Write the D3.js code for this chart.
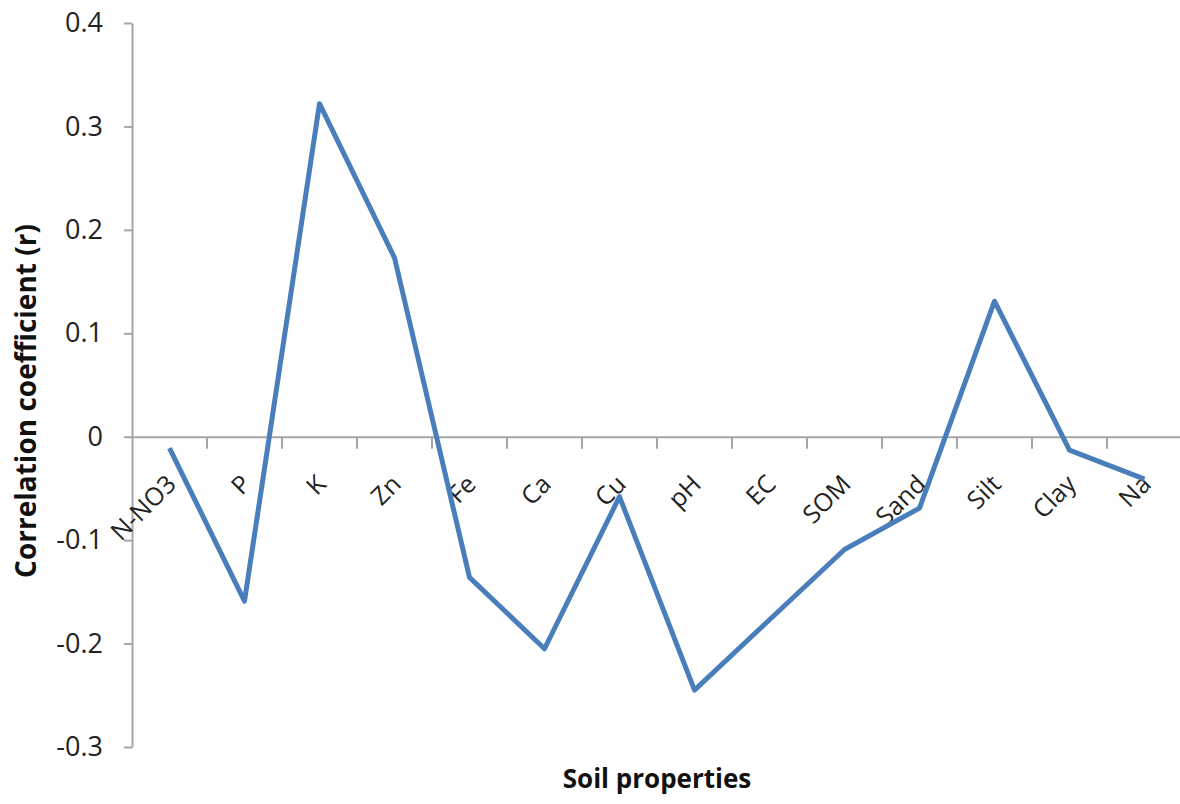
<!DOCTYPE html>
<html>
<head>
<meta charset="utf-8">
<script src="https://cdn.jsdelivr.net/npm/d3@7"></script>
<style>
  body { margin: 0; background: #fff; }
  svg text { font-family: "Open Sans", "Liberation Sans", sans-serif; }
</style>
</head>
<body>
<div id="chart"></div>
<script>
// categories and values
var categories = ["N-NO3", "P", "K", "Zn", "Fe", "Ca", "Cu", "pH", "EC", "SOM", "Sand", "Silt", "Clay", "Na"];
var values = [-0.011, -0.159, 0.322, 0.173, -0.136, -0.205, -0.058, -0.245, -0.177, -0.109, -0.069, 0.131, -0.013, -0.041];
var yTicks = [0.4, 0.3, 0.2, 0.1, 0, -0.1, -0.2, -0.3];

var width = 1180, height = 804;
var margin = {left: 132, right: 0, top: 23, bottom: 57};

var svg = d3.select("#chart").append("svg")
    .attr("width", width)
    .attr("height", height);

var x = d3.scaleBand()
    .domain(categories)
    .range([margin.left, 1182])
    .padding(0);

var y = d3.scaleLinear()
    .domain([-0.3, 0.4])
    .range([height - margin.bottom, margin.top]);

// y axis, plain hyphen for negatives like the original
var yAxis = svg.append("g")
    .attr("transform", "translate(" + margin.left + ",0)")
    .call(d3.axisLeft(y).tickValues(yTicks).tickSize(8).tickSizeOuter(0)
        .tickFormat(function(d) { return d === 0 ? "0" : d.toFixed(1); }));
yAxis.select(".domain").attr("stroke", "#a6a6a6").attr("stroke-width", 2);
yAxis.selectAll(".tick line").attr("stroke", "#a6a6a6").attr("stroke-width", 2);
yAxis.selectAll(".tick text")
    .attr("x", -29)
    .attr("fill", "#222")
    .style("font-size", "27px");

// x axis through zero
var xAxis = svg.append("g")
    .attr("transform", "translate(0," + y(0) + ")")
    .call(d3.axisBottom(x).tickSize(0).tickSizeOuter(0));
xAxis.select(".domain").attr("stroke", "#a6a6a6").attr("stroke-width", 2);

// boundary ticks between categories
var bounds = categories.map(function(c) { return x(c) + x.bandwidth(); });
xAxis.selectAll(".bound")
    .data(bounds)
    .enter().append("line")
    .attr("class", "bound")
    .attr("x1", function(d) { return d; })
    .attr("x2", function(d) { return d; })
    .attr("y1", 0)
    .attr("y2", 12)
    .attr("stroke", "#a6a6a6")
    .attr("stroke-width", 2);

xAxis.selectAll(".tick text")
    .attr("fill", "#222")
    .style("font-size", "25px")
    .attr("text-anchor", "end")
    .attr("dy", 0)
    .attr("y", 0)
    .attr("transform", "translate(8,49) rotate(-45)");

// line
var line = d3.line()
    .x(function(d, i) { return x(categories[i]) + x.bandwidth() / 2; })
    .y(function(d) { return y(d); });

svg.append("path")
    .datum(values)
    .attr("fill", "none")
    .attr("stroke", "#4a7ebb")
    .attr("stroke-width", 5)
    .attr("stroke-linejoin", "round")
    .attr("d", line);

// titles
svg.append("text")
    .attr("transform", "translate(36,401) rotate(-90)")
    .attr("text-anchor", "middle")
    .attr("fill", "#111")
    .style("font-size", "28px")
    .style("font-weight", "bold")
    .text("Correlation coefficient (r)");

svg.append("text")
    .attr("x", 657)
    .attr("y", 788)
    .attr("text-anchor", "middle")
    .attr("fill", "#111")
    .style("font-size", "26px")
    .style("font-weight", "bold")
    .text("Soil properties");
</script>
</body>
</html>
